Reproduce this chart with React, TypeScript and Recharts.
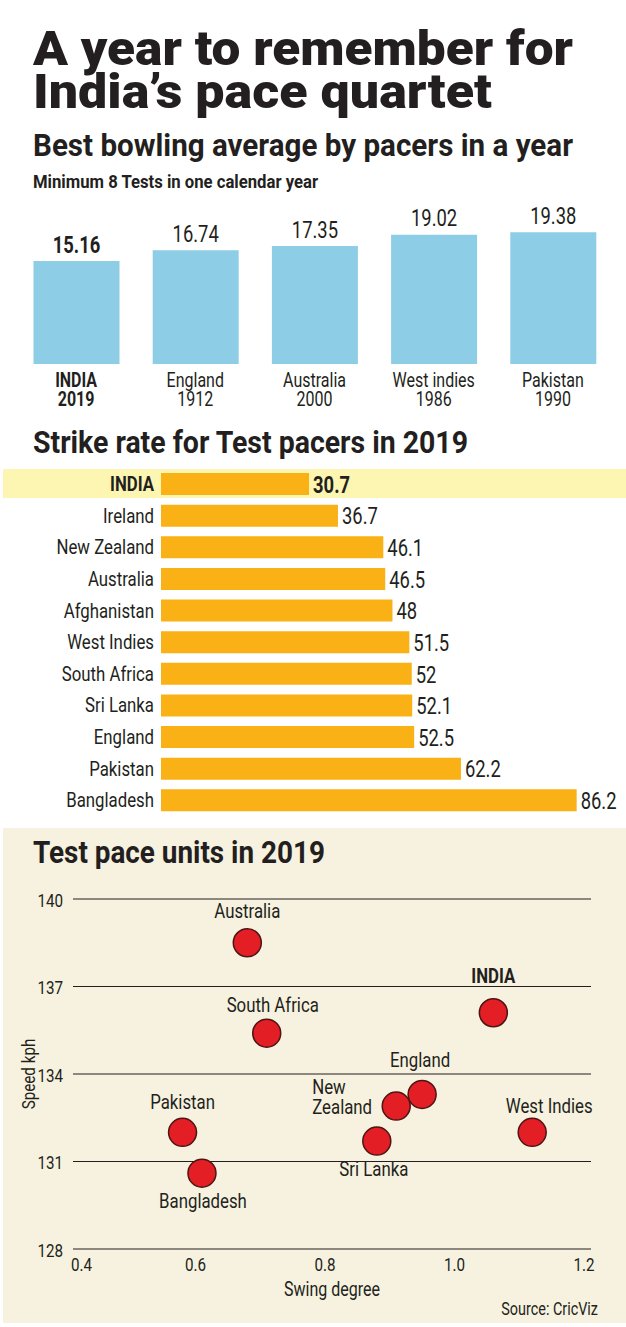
import React from "react";
import {
  Bar,
  BarChart,
  CartesianGrid,
  Label,
  LabelList,
  Scatter,
  ScatterChart,
  XAxis,
  YAxis,
} from "recharts";

// Best bowling average by pacers in a year (min 8 Tests)
const avgTeams = ["INDIA", "England", "Australia", "West indies", "Pakistan"];
const avgYears = ["2019", "1912", "2000", "1986", "1990"];
const avgValues = [15.16, 16.74, 17.35, 19.02, 19.38];

// Strike rate for Test pacers in 2019
const srTeams = [
  "INDIA",
  "Ireland",
  "New Zealand",
  "Australia",
  "Afghanistan",
  "West Indies",
  "South Africa",
  "Sri Lanka",
  "England",
  "Pakistan",
  "Bangladesh",
];
const srValues = [30.7, 36.7, 46.1, 46.5, 48, 51.5, 52, 52.1, 52.5, 62.2, 86.2];

// Test pace units in 2019
const paceTeams = [
  "Australia",
  "South Africa",
  "INDIA",
  "England",
  "New Zealand",
  "Pakistan",
  "West Indies",
  "Sri Lanka",
  "Bangladesh",
];
const paceSwing = [0.68, 0.71, 1.06, 0.95, 0.91, 0.58, 1.12, 0.88, 0.61];
const paceSpeed = [138.5, 135.4, 136.1, 133.3, 132.9, 132.0, 132.0, 131.7, 130.6];

const speedTicks = [128, 131, 134, 137, 140];
const swingTicks = [0.4, 0.6, 0.8, 1.0, 1.2];

const avgData = avgTeams.map((team, i) => ({ team, year: avgYears[i], value: avgValues[i] }));
const srData = srTeams.map((team, i) => ({ team, value: srValues[i] }));
const paceData = paceTeams.map((team, i) => ({ team, swing: paceSwing[i], speed: paceSpeed[i] }));

const COND = "Roboto, 'Noto Sans', sans-serif";
const HEAVY = "Roboto, 'Noto Sans', 'DejaVu Sans', sans-serif";
const SQUEEZE = 0.8; // fake a condensed face
const INK = "#231f20";
const BLUE = "#8ecde6";
const ORANGE = "#f9b115";
const HIGHLIGHT = "#fdf6b2";
const CREAM = "#f6f2df";
const RED = "#e31e25";

const isIndia = (t: string) => t === "INDIA";

// where each scatter label sits relative to its dot
const dotLabels: Record<string, { dx: number; dy: number; anchor?: string; lines?: string[] }> = {
  Australia: { dx: 0, dy: -32 },
  "South Africa": { dx: 6, dy: -28 },
  INDIA: { dx: 0, dy: -37 },
  England: { dx: -2, dy: -35 },
  "New Zealand": { dx: -84, dy: -19, anchor: "start", lines: ["New", "Zealand"] },
  Pakistan: { dx: 0, dy: -31 },
  "West Indies": { dx: 17, dy: -27 },
  "Sri Lanka": { dx: -3, dy: 28 },
  Bangladesh: { dx: 1, dy: 28 },
};

function CondText({ x, y, size, bold = false, anchor = "start", rotate = 0, children }: any) {
  const rot = rotate ? ` rotate(${rotate})` : "";
  return (
    <text
      transform={`translate(${x} ${y})${rot} scale(${SQUEEZE} 1)`}
      textAnchor={anchor}
      dominantBaseline="central"
      fontFamily={COND}
      fontSize={size}
      fontWeight={bold ? 700 : 400}
      fill={INK}
    >
      {children}
    </text>
  );
}

function AvgTick(props: any) {
  const { x, y, payload, index } = props;
  const bold = isIndia(payload.value);
  return (
    <g>
      <CondText x={x} y={y + 16} size={20} bold={bold} anchor="middle">
        {payload.value}
      </CondText>
      <CondText x={x} y={y + 35} size={20} bold={bold} anchor="middle">
        {avgYears[index]}
      </CondText>
    </g>
  );
}

function AvgValueLabel(props: any) {
  const { x, y, width, value, index } = props;
  return (
    <CondText x={x + width / 2} y={y - 16} size={23} bold={index === 0} anchor="middle">
      {Number(value).toFixed(2)}
    </CondText>
  );
}

function SrTick(props: any) {
  const { x, y, payload } = props;
  return (
    <CondText x={x} y={y} size={21} bold={isIndia(payload.value)} anchor="end">
      {payload.value}
    </CondText>
  );
}

function SrValueLabel(props: any) {
  const { x, y, width, height, value, index } = props;
  return (
    <CondText x={x + width + 4} y={y + height / 2 + 1} size={23} bold={index === 0}>
      {value}
    </CondText>
  );
}

const srHighlight = (props: any) =>
  props.index === 0 ? (
    <rect key="hl" x={3} y={props.y - 4} width={623} height={props.height + 7} fill={HIGHLIGHT} />
  ) : null;

function SwingTick(props: any) {
  const { x, y, payload, index } = props;
  const first = index === 0;
  return (
    <CondText x={first ? x + 5 : x} y={y + 15} size={19} anchor={first ? "start" : "middle"}>
      {Number(payload.value).toFixed(1)}
    </CondText>
  );
}

function SpeedTick(props: any) {
  const { x, y, payload } = props;
  return (
    <CondText x={x} y={y + 1} size={19} anchor="end">
      {payload.value}
    </CondText>
  );
}

const gridLine = (props: any) => (
  <line
    key={props.key ?? props.index}
    x1={props.x1 + 7}
    x2={props.x2 + 7}
    y1={props.y1}
    y2={props.y2}
    stroke={INK}
    strokeWidth={1.2}
  />
);

function PaceDot(props: any) {
  const { cx, cy, payload } = props;
  const pos = dotLabels[payload.team] ?? { dx: 0, dy: -30 };
  const lines = pos.lines ?? [payload.team];
  return (
    <g>
      <circle cx={cx} cy={cy} r={14} fill={RED} stroke="#4d1515" strokeWidth={1.5} />
      {lines.map((l, i) => (
        <CondText
          key={l}
          x={cx + pos.dx}
          y={cy + pos.dy + i * 20}
          size={21}
          bold={isIndia(payload.team)}
          anchor={pos.anchor ?? "middle"}
        >
          {l}
        </CondText>
      ))}
    </g>
  );
}

function Heading({ text, y, width, size, weight = 900 }: any) {
  return (
    <text
      x={33}
      y={y}
      fontFamily={HEAVY}
      fontSize={size}
      fontWeight={weight}
      fill={INK}
      textLength={width}
      lengthAdjust="spacingAndGlyphs"
    >
      {text}
    </text>
  );
}

export default function App() {
  return (
    <div
      style={{
        position: "absolute",
        left: 0,
        top: 0,
        width: 626,
        height: 1327,
        background: "#fff",
        overflow: "hidden",
      }}
    >
      <div style={{ position: "absolute", left: 3, top: 828, width: 623, height: 495, background: CREAM }} />

      <div style={{ position: "absolute", left: 0, top: 200 }}>
        <BarChart width={626} height={220} data={avgData} margin={{ top: 28, right: 13.5, bottom: 0, left: 16.5 }}>
          <XAxis
            dataKey="team"
            height={56}
            axisLine={false}
            tickLine={false}
            tickSize={0}
            tickMargin={0}
            interval={0}
            tick={<AvgTick />}
          />
          <YAxis hide domain={[0, 20]} />
          <Bar dataKey="value" fill={BLUE} barSize={86} isAnimationActive={false}>
            <LabelList dataKey="value" content={<AvgValueLabel />} />
          </Bar>
        </BarChart>
      </div>

      <div style={{ position: "absolute", left: 0, top: 460 }}>
        <BarChart
          layout="vertical"
          width={626}
          height={360}
          data={srData}
          margin={{ top: 8, right: 31, bottom: 4, left: 0 }}
        >
          <Bar dataKey="value" fill={ORANGE} barSize={22} background={srHighlight} isAnimationActive={false}>
            <LabelList dataKey="value" content={<SrValueLabel />} />
          </Bar>
          <XAxis type="number" hide domain={[0, 90]} />
          <YAxis
            type="category"
            dataKey="team"
            width={161}
            axisLine={false}
            tickLine={false}
            tickSize={0}
            tickMargin={7}
            interval={0}
            tick={<SrTick />}
          />
        </BarChart>
      </div>

      <div style={{ position: "absolute", left: 0, top: 870 }}>
        <ScatterChart width={626} height={440} margin={{ top: 29, right: 42, bottom: 0, left: 0 }}>
          <CartesianGrid vertical={false} horizontal={gridLine} />
          <XAxis
            type="number"
            dataKey="swing"
            domain={[0.4, 1.2]}
            ticks={swingTicks}
            height={61}
            axisLine={false}
            tickLine={false}
            tickSize={0}
            tickMargin={0}
            interval={0}
            tick={<SwingTick />}
          >
            <Label
              content={(p: any) => (
                <CondText x={p.viewBox.x + p.viewBox.width / 2 + 7} y={p.viewBox.y + 40} size={20} anchor="middle">
                  Swing degree
                </CondText>
              )}
            />
          </XAxis>
          <YAxis
            type="number"
            dataKey="speed"
            domain={[128, 140]}
            ticks={speedTicks}
            width={66}
            axisLine={false}
            tickLine={false}
            tickSize={0}
            tickMargin={3}
            interval={0}
            tick={<SpeedTick />}
          >
            <Label
              content={(p: any) => (
                <CondText
                  x={p.viewBox.x + 28}
                  y={p.viewBox.y + p.viewBox.height / 2}
                  size={19}
                  anchor="middle"
                  rotate={-90}
                >
                  Speed kph
                </CondText>
              )}
            />
          </YAxis>
          <Scatter data={paceData} shape={PaceDot} isAnimationActive={false} />
        </ScatterChart>
      </div>

      <svg
        width={626}
        height={1327}
        style={{ position: "absolute", left: 0, top: 0, pointerEvents: "none" }}
      >
        <Heading text="A year to remember for" y={65} width={540} size={49} />
        <Heading text="India’s pace quartet" y={108} width={459} size={49} />
        <Heading text="Best bowling average by pacers in a year" y={156} width={540} size={31} weight={700} />
        <Heading text="Minimum 8 Tests in one calendar year" y={188} width={285} size={18} weight={700} />
        <Heading text="Strike rate for Test pacers in 2019" y={453} width={435} size={31} weight={700} />
        <Heading text="Test pace units in 2019" y={863} width={292} size={31} weight={700} />
        <CondText x={598} y={1309} size={18} anchor="end">
          Source: CricViz
        </CondText>
      </svg>
    </div>
  );
}
